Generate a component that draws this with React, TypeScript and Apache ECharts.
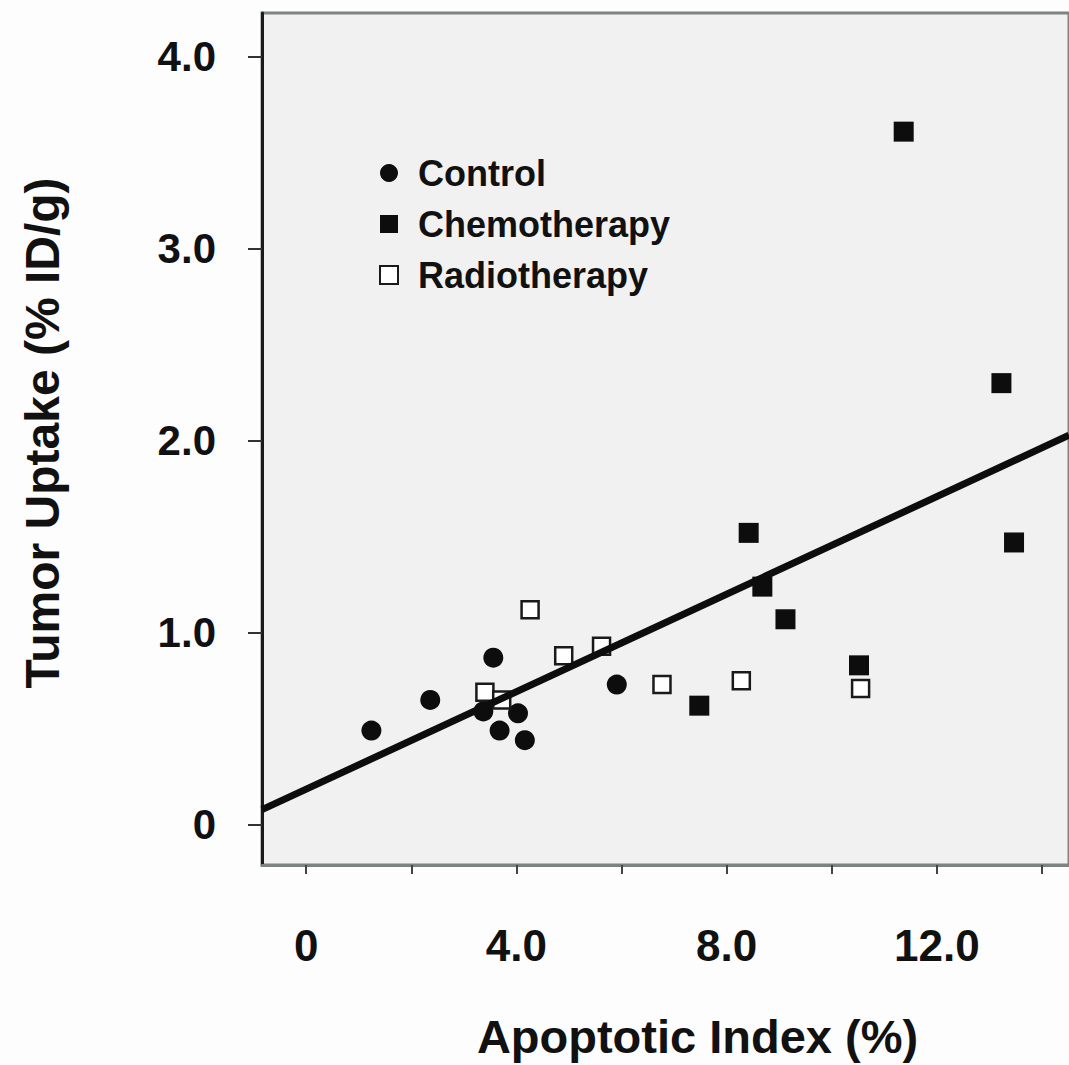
import React, { useEffect, useRef } from "react";
import * as echarts from "echarts";

// Data: [Apoptotic Index (%), Tumor Uptake (%ID/g)]
const controlPoints: number[][] = [
  [1.24, 0.49],
  [2.36, 0.65],
  [3.56, 0.87],
  [3.37, 0.59],
  [4.03, 0.58],
  [3.68, 0.49],
  [4.16, 0.44],
  [5.91, 0.73],
];
const chemotherapyPoints: number[][] = [
  [11.37, 3.61],
  [13.23, 2.3],
  [13.47, 1.47],
  [8.42, 1.52],
  [8.68, 1.24],
  [9.12, 1.07],
  [10.52, 0.83],
  [7.48, 0.62],
];
const radiotherapyPoints: number[][] = [
  [4.26, 1.12],
  [3.4, 0.69],
  [3.72, 0.65],
  [4.9, 0.88],
  [5.62, 0.93],
  [6.77, 0.73],
  [8.28, 0.75],
  [10.55, 0.71],
];
const regressionIntercept = 0.185;
const regressionSlope = 0.127;

const xTickValues = [0, 2, 4, 6, 8, 10, 12, 14];
const xLabelValues = [0, 4, 8, 12];
const yTickValues = [0, 1, 2, 3, 4];

const X_MIN = -0.842;
const X_MAX = 14.516;
const Y_MIN = -0.21;
const Y_MAX = 4.228;

const FONT = "Liberation Sans, Arial, Helvetica, sans-serif";

export default function App() {
  const ref = useRef<HTMLDivElement>(null);
  useEffect(() => {
    if (!ref.current) return;
    const chart = echarts.init(ref.current, null, { renderer: "svg" });
    const lineData = [
      [X_MIN, regressionIntercept + regressionSlope * X_MIN],
      [X_MAX, regressionIntercept + regressionSlope * X_MAX],
    ];
    chart.setOption({
      animation: false,
      backgroundColor: "#fdfdfd",
      grid: {
        left: 262,
        right: -3,
        top: 13,
        bottom: 195,
        show: true,
        backgroundColor: "#f0f1f0",
        borderColor: "#7d8383",
        borderWidth: 3,
      },
      legend: {
        orient: "vertical",
        left: 374,
        top: 150,
        itemWidth: 18,
        itemHeight: 18,
        itemGap: 15,
        data: [
          { name: "Control", icon: "circle" },
          { name: "Chemotherapy", icon: "rect" },
          { name: "Radiotherapy", icon: "rect" },
        ],
        textStyle: {
          fontFamily: FONT,
          fontSize: 36,
          fontWeight: "bold",
          color: "#111",
          lineHeight: 36,
          padding: [0, 0, 0, 15],
        },
      },
      xAxis: {
        type: "value",
        min: X_MIN,
        max: X_MAX,
        name: "Apoptotic Index (%)",
        nameLocation: "middle",
        nameGap: 148,
        nameTextStyle: {
          fontFamily: FONT,
          fontSize: 47,
          fontWeight: "bold",
          color: "#111",
          padding: [0, 0, 0, 64],
        },
        splitLine: { show: false },
        axisLine: { show: true, onZero: false, lineStyle: { color: "#7d8383", width: 3 } },
        axisTick: {
          show: true,
          customValues: xTickValues,
          length: 9,
          lineStyle: { color: "#444", width: 2 },
        },
        axisLabel: {
          customValues: xLabelValues,
          margin: 58,
          fontFamily: FONT,
          fontSize: 44,
          fontWeight: "bold",
          color: "#111",
          formatter: (v: number) => (v === 0 ? "0" : v.toFixed(1)),
        },
      },
      yAxis: {
        type: "value",
        min: Y_MIN,
        max: Y_MAX,
        name: "Tumor Uptake (% ID/g)",
        nameLocation: "middle",
        nameRotate: 90,
        nameGap: 196,
        nameTextStyle: {
          fontFamily: FONT,
          fontSize: 48,
          fontWeight: "bold",
          color: "#111",
          padding: [0, 0, 0, 12],
        },
        splitLine: { show: false },
        axisLine: { show: true, onZero: false, lineStyle: { color: "#1a1a1a", width: 3 } },
        axisTick: {
          show: true,
          customValues: yTickValues,
          length: 14,
          lineStyle: { color: "#333", width: 2 },
        },
        axisLabel: {
          customValues: yTickValues,
          margin: 46,
          fontFamily: FONT,
          fontSize: 42,
          fontWeight: "bold",
          color: "#111",
          formatter: (v: number) => (v === 0 ? "0" : v.toFixed(1)),
        },
      },
      series: [
        {
          name: "Control",
          type: "scatter",
          symbol: "circle",
          symbolSize: 20,
          itemStyle: { color: "#0d0d0d", opacity: 1 },
          data: controlPoints,
          z: 3,
        },
        {
          name: "Chemotherapy",
          type: "scatter",
          symbol: "rect",
          symbolSize: 20,
          itemStyle: { color: "#0d0d0d", opacity: 1 },
          data: chemotherapyPoints,
          z: 3,
        },
        {
          name: "Radiotherapy",
          type: "scatter",
          symbol: "rect",
          symbolSize: 17,
          itemStyle: { color: "#ffffff", borderColor: "#1a1a1a", borderWidth: 2.5, opacity: 1 },
          data: radiotherapyPoints,
          z: 3,
        },
        {
          name: "Regression",
          type: "line",
          data: lineData,
          symbol: "none",
          silent: true,
          lineStyle: { color: "#0d0d0d", width: 7 },
          z: 4,
        },
      ],
    });
    return () => chart.dispose();
  }, []);
  return (
    <div
      ref={ref}
      style={{ position: "absolute", left: 0, top: 0, width: 1069, height: 1065 }}
    />
  );
}
